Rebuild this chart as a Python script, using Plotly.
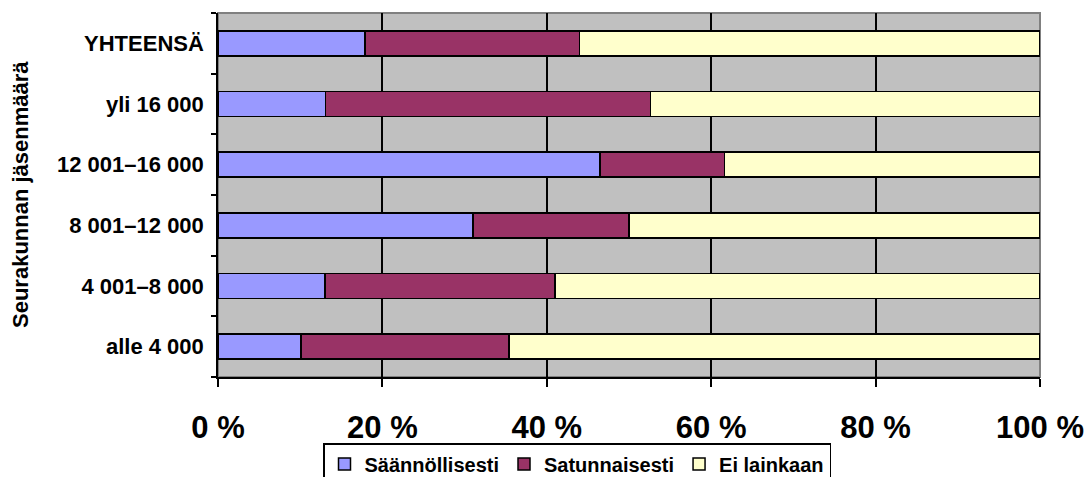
import plotly.graph_objects as go

# Membership-size groups, bottom to top
categories = ["alle 4 000", "4 001–8 000", "8 001–12 000",
              "12 001–16 000", "yli 16 000", "YHTEENSÄ"]

# Shares (%) per group
saannollisesti = [10.1, 13.0, 31.0, 46.5, 13.1, 17.9]
satunnaisesti = [25.3, 28.0, 19.0, 15.1, 39.5, 26.1]
ei_lainkaan = [64.6, 59.0, 50.0, 38.4, 47.4, 56.0]

series_names = ["Säännöllisesti", "Satunnaisesti", "Ei lainkaan"]
series_values = [saannollisesti, satunnaisesti, ei_lainkaan]
series_colors = ["#9999FF", "#993366", "#FFFFCC"]

x_tickvals = [0, 20, 40, 60, 80, 100]
x_ticktext = ["0 %", "20 %", "40 %", "60 %", "80 %", "100 %"]

FONT = "Liberation Sans, Arial, sans-serif"

fig = go.Figure()
for name, vals, color in zip(series_names, series_values, series_colors):
    fig.add_trace(go.Bar(
        y=categories, x=vals, name=name, orientation="h",
        marker=dict(color=color, line=dict(color="black", width=1.5)),
    ))

W, H = 1088, 477
ml, mr, mt, mb = 218, 48, 13, 100
plot_w = W - ml - mr
plot_h = H - mt - mb

fig.update_layout(
    width=W, height=H,
    barmode="stack", bargap=0.59,
    plot_bgcolor="#C0C0C0", paper_bgcolor="white",
    margin=dict(l=ml, r=mr, t=mt, b=mb, autoexpand=False),
    font=dict(family=FONT, color="black"),
    showlegend=True,
    legend=dict(
        orientation="h", x=(577 - ml) / plot_w, xanchor="center",
        y=-(443 - (H - mb)) / plot_h, yanchor="top",
        bordercolor="black", borderwidth=1.5, bgcolor="white",
        font=dict(size=20, family=FONT, weight="bold"),
        traceorder="normal", itemwidth=30,
    ),
    xaxis=dict(
        range=[0, 100], tickvals=x_tickvals, ticktext=x_ticktext,
        showgrid=True, gridcolor="black", gridwidth=1.5,
        showline=True, linecolor="black", linewidth=1.5,
        ticks="outside", ticklen=8, tickwidth=1.5, tickcolor="black",
        tickfont=dict(size=31, family=FONT, weight="bold"),
        ticklabelstandoff=14, zeroline=False, fixedrange=True,
    ),
    yaxis=dict(
        categoryorder="array", categoryarray=categories,
        showgrid=False, tickson="boundaries",
        showline=True, linecolor="black", linewidth=1.5,
        ticks="outside", ticklen=5, tickwidth=1.5, tickcolor="black",
        tickfont=dict(size=22, family=FONT, weight="bold"),
        ticklabelstandoff=8, fixedrange=True,
    ),
    shapes=[dict(type="rect", xref="paper", yref="paper", x0=0, x1=1, y0=0, y1=1,
                 line=dict(color="#808080", width=2), layer="below")],
    annotations=[dict(
        text="Seurakunnan jäsenmäärä", textangle=-90,
        xref="paper", yref="paper", x=(20 - ml) / plot_w, y=(H - mb - 195) / plot_h,
        xanchor="center", yanchor="middle", showarrow=False,
        font=dict(size=22, family=FONT, weight="bold"),
    )],
)

fig.write_html("out.html")
